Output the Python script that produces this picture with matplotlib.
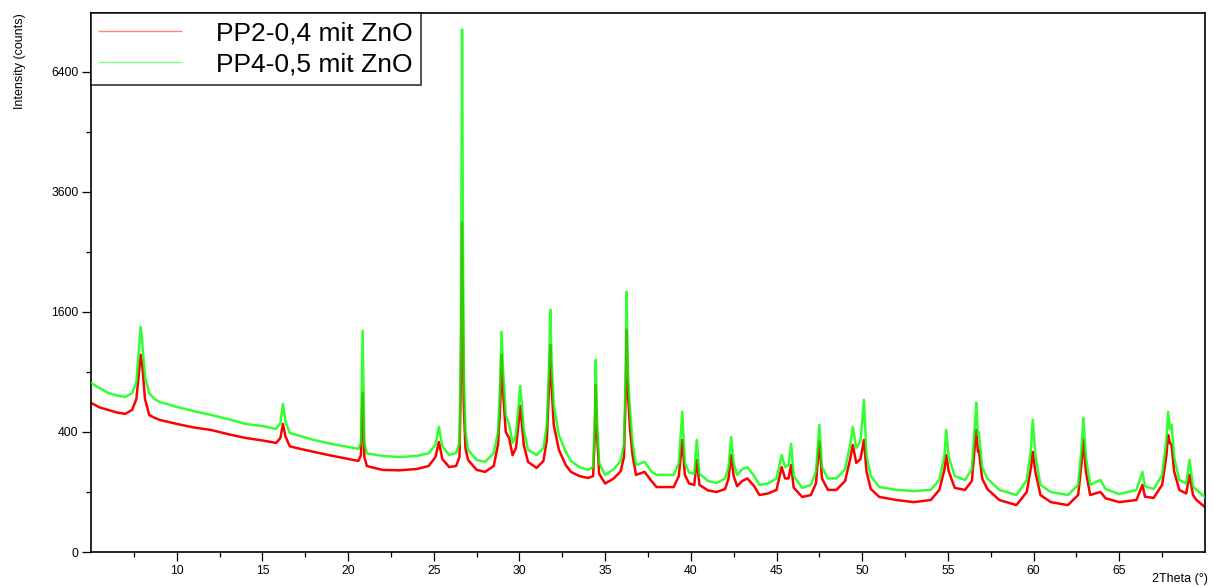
"""
XRD-Diffraktogramm: PP2-0,4 und PP4-0,5 mit ZnO, Intensitaet auf Wurzel-Skala.
"""
import numpy as np
import matplotlib
matplotlib.use("Agg")
import matplotlib.pyplot as plt

plt.rcParams["font.family"] = ["Liberation Sans", "DejaVu Sans"]

# 2Theta (deg) / counts
pp2_theta = [5.0, 5.5, 6.0, 6.5, 7.0, 7.4, 7.65, 7.8, 7.9, 8.0, 8.15, 8.4, 8.7, 9.0,
             10.0, 11.0, 12.0, 13.0, 14.0, 15.0, 15.8, 16.05, 16.2, 16.35, 16.6, 17.0,
             18.0, 19.0, 20.0, 20.6, 20.75, 20.85, 20.95, 21.1, 22.0, 23.0, 24.0, 24.7,
             25.1, 25.3, 25.5, 25.9, 26.3, 26.5, 26.58, 26.62, 26.65, 26.7, 26.75, 26.85,
             27.0, 27.5, 28.0, 28.5, 28.75, 28.88, 28.95, 29.05, 29.2, 29.4, 29.6, 29.8,
             30.05, 30.25, 30.5, 31.0, 31.4, 31.6, 31.75, 31.8, 31.88, 32.0, 32.3, 32.7,
             33.0, 33.5, 34.0, 34.3, 34.4, 34.45, 34.52, 34.65, 35.0, 35.5, 35.9, 36.1,
             36.2, 36.25, 36.33, 36.45, 36.6, 36.8, 37.3, 37.7, 38.0, 39.0, 39.3, 39.5,
             39.65, 39.9, 40.2, 40.35, 40.5, 41.0, 41.5, 42.0, 42.2, 42.35, 42.5, 42.7,
             43.0, 43.3, 43.7, 44.0, 44.5, 45.0, 45.3, 45.5, 45.7, 45.85, 46.0, 46.5,
             47.0, 47.3, 47.5, 47.65, 48.0, 48.5, 49.0, 49.3, 49.45, 49.65, 49.9, 50.1,
             50.25, 50.5, 51.0, 52.0, 53.0, 54.0, 54.5, 54.8, 54.9, 55.05, 55.4, 56.0,
             56.4, 56.6, 56.65, 56.75, 56.8, 57.0, 57.3, 58.0, 59.0, 59.6, 59.85, 59.95,
             60.1, 60.4, 61.0, 62.0, 62.6, 62.8, 62.9, 63.05, 63.3, 63.9, 64.2, 65.0,
             66.0, 66.35, 66.5, 67.0, 67.5, 67.75, 67.85, 67.95, 68.05, 68.2, 68.5, 68.9,
             69.1, 69.3, 69.5, 70.0]
pp2_counts = [617, 580, 560, 540, 529, 560, 650, 900, 1078, 950, 650, 520, 500, 484,
              455, 430, 413, 385, 361, 345, 330, 360, 455, 370, 310, 300,
              278, 258, 240, 230, 260, 702, 250, 205, 187, 185, 191, 205,
              250, 336, 240, 200, 205, 250, 800, 2000, 3006, 1500, 600, 300,
              235, 187, 178, 205, 320, 600, 1078, 700, 400, 360, 260, 300,
              592, 320, 225, 196, 230, 350, 850, 1190, 750, 450, 290, 210,
              178, 160, 152, 160, 400, 775, 400, 170, 130, 150, 180, 250,
              700, 1369, 700, 420, 260, 165, 178, 140, 117, 117, 160, 348,
              165, 130, 125, 235, 125, 105, 100, 110, 150, 261, 160, 120,
              140, 150, 120, 90, 95, 107, 200, 150, 150, 210, 115, 84,
              90, 130, 340, 150, 107, 107, 140, 240, 318, 220, 240, 348,
              180, 110, 84, 75, 69, 75, 107, 190, 261, 180, 114, 107,
              140, 350, 413, 280, 290, 150, 110, 75, 61, 100, 200, 278,
              180, 90, 69, 61, 90, 220, 348, 180, 90, 100, 80, 69,
              75, 125, 85, 81, 125, 260, 380, 330, 318, 180, 107, 95,
              165, 90, 75, 56]

pp4_theta = pp2_theta
pp4_counts = [793, 745, 702, 680, 667, 700, 800, 1150, 1406, 1200, 850, 700, 650, 625,
              584, 550, 521, 490, 455, 440, 420, 460, 608, 470, 393, 380,
              348, 325, 306, 295, 330, 1357, 330, 270, 256, 250, 256, 270,
              320, 434, 310, 261, 272, 330, 1100, 4074, 7569, 3000, 900, 400,
              289, 235, 225, 272, 400, 800, 1344, 900, 520, 450, 330, 380,
              765, 420, 289, 261, 300, 450, 1100, 1627, 1000, 600, 380, 280,
              230, 200, 187, 200, 500, 1024, 500, 220, 165, 190, 230, 320,
              900, 1878, 900, 560, 330, 210, 225, 180, 165, 165, 220, 544,
              220, 175, 170, 348, 170, 140, 132, 150, 200, 367, 220, 165,
              190, 200, 160, 125, 130, 150, 261, 200, 210, 324, 160, 114,
              125, 180, 448, 200, 150, 150, 190, 320, 434, 300, 340, 642,
              260, 160, 117, 107, 103, 107, 144, 260, 413, 250, 160, 144,
              190, 500, 617, 380, 400, 200, 150, 107, 90, 144, 300, 484,
              260, 125, 100, 90, 125, 300, 499, 250, 125, 144, 110, 93,
              107, 178, 120, 110, 165, 350, 544, 420, 450, 250, 144, 130,
              235, 120, 107, 84]

y_major = [0, 400, 1600, 3600, 6400]
y_minor = [100, 900, 2500, 4900]
x_major = [10, 15, 20, 25, 30, 35, 40, 45, 50, 55, 60, 65]
x_minor = [7.5, 12.5, 17.5, 22.5, 27.5, 32.5, 37.5, 42.5, 47.5, 52.5, 57.5, 62.5, 67.5]


def _sqrt(v):
    return np.sqrt(np.clip(v, 0, None))


def _square(v):
    return np.asarray(v) ** 2


fig = plt.figure(figsize=(12.13, 5.87), dpi=100)
ax = fig.add_axes([0.075, 0.0596, 0.9184, 0.918])

ax.plot(pp2_theta, pp2_counts, color="#ff0000", linewidth=1.8, label="PP2-0,4 mit ZnO", zorder=2)
ax.plot(pp4_theta, pp4_counts, color="#00ff00", linewidth=1.8, alpha=0.8,
        label="PP4-0,5 mit ZnO", zorder=3)

ax.set_yscale("function", functions=(_sqrt, _square))
ax.set_xlim(5, 70)
ax.set_ylim(0, 8050)

ax.set_yticks(y_major)
ax.set_yticks(y_minor, minor=True)
ax.set_xticks(x_major)
ax.set_xticks(x_minor, minor=True)
ax.tick_params(which="major", direction="out", length=6.5, width=0.9, labelsize=8.7, pad=2.5)
ax.tick_params(which="minor", direction="out", length=3.6, width=0.9)
ax.tick_params(top=False, right=False)

for sp in ax.spines.values():
    sp.set_linewidth(1.2)

ax.set_ylabel("Intensity (counts)", fontsize=9, loc="top")
ax.yaxis.set_label_coords(-0.058, 1.0)
fig.text(0.9495, 0.003, "2Theta (°)", fontsize=9, ha="left", va="bottom")

leg = ax.legend(loc="upper left", bbox_to_anchor=(0, 1), borderaxespad=0, fontsize=19,
                frameon=True, fancybox=False, handlelength=3.1, handletextpad=1.3,
                labelspacing=0.25, borderpad=0.32)
leg.get_frame().set_edgecolor("black")
leg.get_frame().set_linewidth(1.2)
for line in leg.get_lines():
    line.set_linewidth(1.0)
    line.set_alpha(0.5)

fig.savefig("out.png", dpi=100)
